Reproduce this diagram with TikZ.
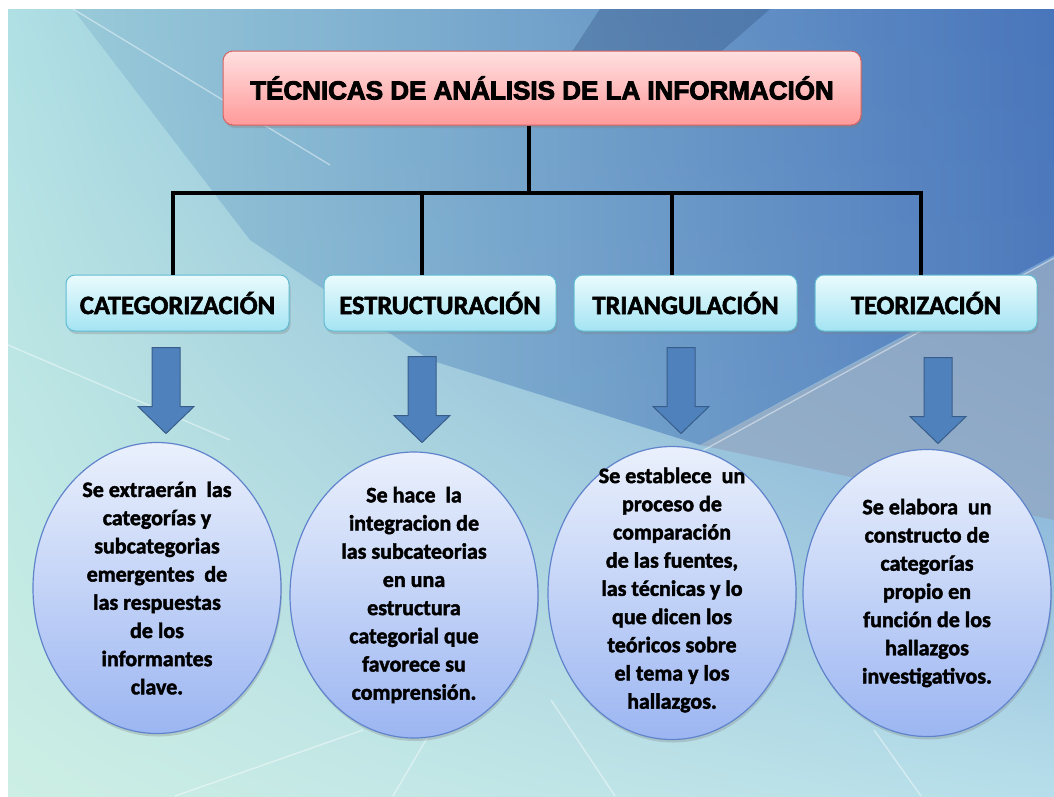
\documentclass[tikz,border=0pt]{standalone}
\usepackage{fontspec}
\setmainfont{Carlito}[BoldFeatures={FakeBold=2}]
\newfontfamily\headfont{Liberation Sans}[BoldFeatures={FakeBold=3.5}]
\usetikzlibrary{positioning,shapes.geometric,shadows,shadings}

\definecolor{titletop}{RGB}{255,224,224}
\definecolor{titlebot}{RGB}{255,154,154}
\definecolor{titleline}{RGB}{214,98,98}
\definecolor{boxtop}{RGB}{234,251,253}
\definecolor{boxbot}{RGB}{164,228,243}
\definecolor{boxline}{RGB}{96,188,210}
\definecolor{ovaltop}{RGB}{234,240,252}
\definecolor{ovalbot}{RGB}{156,182,242}
\definecolor{ovalline}{RGB}{96,132,204}
\definecolor{arrowfill}{RGB}{79,129,189}
\definecolor{arrowline}{RGB}{56,93,138}
\definecolor{bgTL}{RGB}{176,224,228}
\definecolor{bgTR}{RGB}{78,124,194}
\definecolor{bgBL}{RGB}{204,238,228}
\definecolor{bgBR}{RGB}{182,222,234}
\definecolor{bandL}{RGB}{150,200,216}
\definecolor{bandR}{RGB}{72,116,186}
\definecolor{wedge}{RGB}{146,166,192}

\tikzset{
  titlebox/.style={rounded corners=10pt, draw=titleline, line width=1pt,
    top color=titletop, bottom color=titlebot, minimum width=638pt,
    minimum height=74pt, font=\headfont\bfseries\fontsize{26}{30}\selectfont,
    drop shadow={shadow xshift=1.5pt, shadow yshift=-3pt, opacity=.35}},
  techbox/.style={rounded corners=9pt, draw=boxline, line width=1pt,
    top color=boxtop, bottom color=boxbot, minimum height=56pt,
    font=\bfseries\fontsize{26.5}{30}\selectfont,
    drop shadow={shadow xshift=1.5pt, shadow yshift=-3pt, opacity=.3}},
  oval/.style={ellipse, draw=ovalline, line width=1.2pt, top color=ovaltop,
    bottom color=ovalbot, minimum width=248pt, inner sep=0pt,
    drop shadow={shadow xshift=1pt, shadow yshift=-3pt, opacity=.3}},
  ovaltext/.style={align=center, inner sep=0pt,
    font=\bfseries\fontsize{22}{28.2}\selectfont},
  tree/.style={line width=3.5pt},
  streak/.style={white, opacity=.45, line width=1.3pt},
  downarrow/.pic={
    \filldraw[fill=arrowfill, draw=arrowline, line width=1pt]
      (-14,0) -- (14,0) -- (14,59) -- (28,59) -- (0,86) -- (-28,59) -- (-14,59) -- cycle;}
}

\begin{document}
\begin{tikzpicture}[x=1pt, y=-1pt]
  \fill[white] (0,0) rectangle (1054,796);
  \useasboundingbox (0,0) rectangle (1054,796);

  % background
  \begin{scope}
    \clip (8,9) rectangle (1054,796);
    \shade[upper left=bgTL, upper right=bgTR, lower left=bgBL, lower right=bgBR]
      (8,9) rectangle (1054,796);
    \shade[left color=bandL, right color=bandR, opacity=.85]
      (73,9) -- (1054,9) -- (1054,255) -- (700,445) -- (430,360) -- (250,240) -- cycle;
    \fill[wedge, opacity=.7] (1054,258) -- (700,445) -- (1054,520) -- cycle;
    \fill[bandR!70!black, opacity=.35] (600,9) -- (770,9) -- (700,70) -- (560,70) -- cycle;
    \draw[streak] (73,9) -- (330,165);
    \draw[streak] (1054,258) -- (640,485);
    \draw[streak] (8,345) -- (230,440);
    \draw[streak] (175,796) -- (363,730);
    \draw[streak] (393,796) -- (430,733);
    \draw[streak] (551,700) -- (615,796);
    \draw[streak] (874,730) -- (921,796);
  \end{scope}

  \node[titlebox] (title) at (542,88) {TÉCNICAS DE ANÁLISIS DE LA INFORMACIÓN};

  \node[techbox, minimum width=223pt] (cat) at (177.5,303) {CATEGORIZACIÓN};
  \node[techbox, minimum width=232pt, right=34pt of cat] (est) {ESTRUCTURACIÓN};
  \node[techbox, minimum width=223pt, right=17pt of est] (tri) {TRIANGULACIÓN};
  \node[techbox, minimum width=222pt, right=17pt of tri] (teo) {TEORIZACIÓN};

  \coordinate (hub) at (529,193);
  \draw[tree] (title.south -| hub) -- (hub);
  \foreach \b/\dx in {cat/-4.5, est/-18, tri/-13.5, teo/-5}
    \draw[tree] (hub) -| ([xshift=\dx pt]\b.north);

  \foreach \b/\dx/\dy in {cat/-11.5/16, est/-18/25, tri/-4.5/16, teo/12/26}
    \path (\b.south) ++(\dx,\dy) pic {downarrow};

  \node[oval, minimum height=291pt] (o1) at (157,588) {};
  \node[oval, minimum height=286pt] (o2) at (414,595) {};
  \node[oval, minimum height=293pt] (o3) at (672,593) {};
  \node[oval, minimum height=287pt] (o4) at (927,593) {};

  \node[ovaltext] (t1) at (o1) {Se extraerán~ las\\ categorías y\\ subcategorias\\ emergentes~ de\\ las respuestas\\ de los\\ informantes\\ clave.};
  \node[ovaltext] (t2) at (o2) {Se hace~ la\\ integracion de\\ las subcateorias\\ en una\\ estructura\\ categorial que\\ favorece su\\ comprensión.};
  \node[ovaltext] (t3) at ([yshift=3pt]o3) {Se establece~ un\\ proceso de\\ comparación\\ de las fuentes,\\ las técnicas y lo\\ que dicen los\\ teóricos sobre\\ el tema y los\\ hallazgos.};
  \node[ovaltext] (t4) at (o4) {Se elabora~ un\\ constructo de\\ categorías\\ propio en\\ función de los\\ hallazgos\\ investigativos.};
\end{tikzpicture}
\end{document}
